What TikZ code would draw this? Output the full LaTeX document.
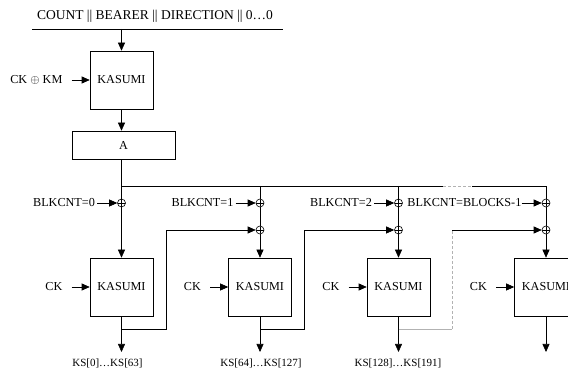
\documentclass[tikz,border=0pt]{standalone}
\usepackage{fontspec}
\setmainfont{Liberation Serif}
\usetikzlibrary{arrows.meta, positioning, calc}
\tikzset{
    font=\fontsize{12.2}{14}\selectfont,
    >={Triangle[length=8pt,width=7pt]},
    % Shapes
    kasumi/.style={rectangle, draw, minimum width=63pt, minimum height=58pt, inner sep=0pt},
    xorop/.style={circle, draw, minimum size=8pt, inner sep=0pt,
        path picture={\draw (path picture bounding box.north) -- (path picture bounding box.south)
                            (path picture bounding box.west) -- (path picture bounding box.east);}},
    % Flow & Labels
    flow/.style={->},
    lbl/.style={inner ysep=1pt, inner xsep=2pt},
    keylbl/.style={inner ysep=1pt, inner xsep=9pt},
    outlbl/.style={font=\fontsize{11}{13}\selectfont, anchor=base},
    future/.style={draw=gray!60, dash pattern=on 3pt off 2pt},
    faint/.style={draw=gray!60}
}

\begin{document}
\begin{tikzpicture}[x=1pt, y=-1pt, line width=0.6pt]
\useasboundingbox (0,0) rectangle (568,371);
\clip (0,0) rectangle (568,371);

% input block
\node[anchor=base, font=\fontsize{13.5}{16}\selectfont] (iv) at (155,20) {COUNT || BEARER || DIRECTION || 0…0};
\coordinate (ivL) at (32,29);
\coordinate (ivR) at (283,29);
\node[kasumi] (kin) at (121.5,80) {KASUMI};
\node[kasumi, minimum width=103pt, minimum height=28pt] (A) at (123.5,145) {A};
\node[keylbl, anchor=east] (ckm) at ($(kin.west)+(-18,0)$) {CK $\oplus$ KM};

\draw (ivL) -- (ivR);
\draw[flow] (ivL -| kin) -- (kin);
\draw[flow] (ckm.east) -- (kin.west);
\draw[flow] (kin.south) -- (kin.south |- A.north);

% keystream blocks
\coordinate (split) at (121.5,186);
\coordinate (gap1) at (443,186);
\coordinate (gap2) at (472,186);
\foreach \i/\x in {0/121.5, 1/260, 2/398.5, 3/546} {
    \node[kasumi] (k\i) at (\x,287) {KASUMI};
    \node[xorop] (x\i) at (\x,203) {};
    \node[keylbl, anchor=east] (ck\i) at ($(k\i.west)+(-18,0)$) {CK};
    \coordinate (out\i) at (\x,352);
    \draw[flow] (ck\i.east) -- (k\i.west);
    \draw[flow] (k\i.south) -- (out\i);
}
\foreach \i/\x in {1/260, 2/398.5, 3/546}
    \node[xorop] (y\i) at (\x,230) {};

\node[lbl, anchor=east] (b0) at ($(x0.west)+(-20,0)$) {BLKCNT=0};
\node[lbl, anchor=east] (b1) at ($(x1.west)+(-20,0)$) {BLKCNT=1};
\node[lbl, anchor=east] (b2) at ($(x2.west)+(-20,0)$) {BLKCNT=2};
\node[lbl, inner xsep=0pt, anchor=east] (b3) at ($(x3.west)+(-20,0)$) {BLKCNT=BLOCKS-1};

\node[outlbl] (ks0) at (107.5,367) {KS[0]…KS[63]};
\node[outlbl] (ks1) at (261,367) {KS[64]…KS[127]};
\node[outlbl] (ks2) at (398,367) {KS[128]…KS[191]};

% trunk from A
\draw (split |- A.south) -- (x0);
\draw[flow] (x0) -- (k0);
\draw (split) -- (gap1);
\draw[future] (gap1) -- (gap2);
\draw (gap2) -| (x3);
\draw (split -| x1) -- (x1);
\draw (split -| x2) -- (x2);
\foreach \i in {1,2,3} {
    \draw (x\i) -- (y\i);
    \draw[flow] (y\i) -- (k\i);
}
\foreach \i in {0,1,2,3}
    \draw[flow] (b\i.east) -- (x\i.west);

% feedback
\coordinate (fb0) at (166,329);
\coordinate (fb1) at (304,329);
\coordinate (fb2) at (452,329);
\draw[flow] (k0.south) |- (fb0) |- (y1);
\draw[flow] (k1.south) |- (fb1) |- (y2);
\draw[faint] (k2.south |- fb2) -- (fb2);
\draw[future] (fb2) -- (fb2 |- y3);
\draw[flow] (fb2 |- y3) -- (y3);

\end{tikzpicture}
\end{document}
